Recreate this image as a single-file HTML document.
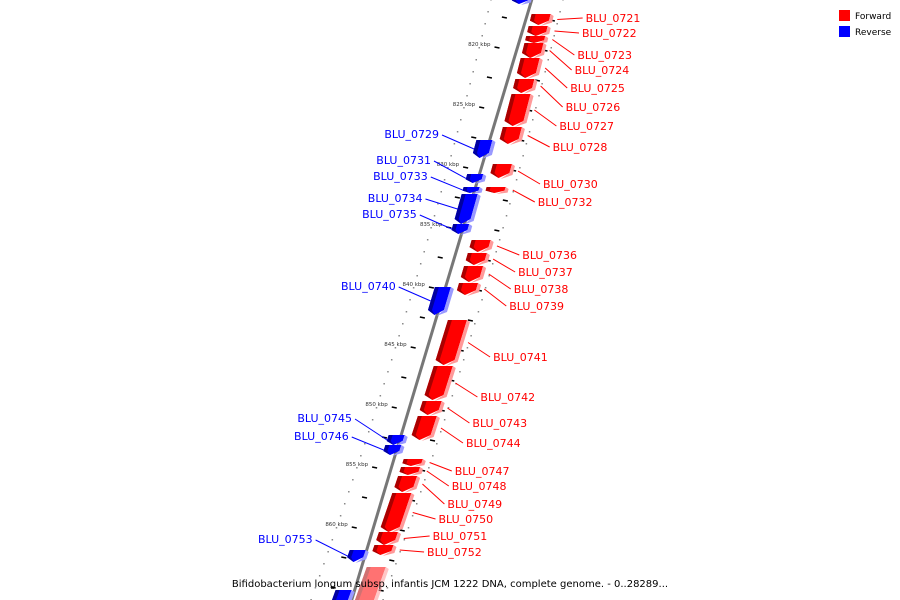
<!DOCTYPE html>
<html><head><meta charset="utf-8"><style>
body{margin:0;background:#fff;}
svg{display:block;font-family:"DejaVu Sans","Liberation Sans",sans-serif;}
</style></head><body>
<svg id="c" width="900" height="600" viewBox="0 0 900 600">
<g id="ticks"></g>
<line id="bb"></line>
<g id="genes"></g>
<g id="labels"></g>
<g>
<rect x="839" y="10" width="11" height="11" fill="#f00"/>
<text x="855" y="19" font-size="9">Forward</text>
<rect x="839" y="26" width="11" height="11" fill="#00f"/>
<text x="855" y="35" font-size="9">Reverse</text>
</g>
<text x="450" y="587" font-size="10" text-anchor="middle">Bifidobacterium longum subsp. infantis JCM 1222 DNA, complete genome. - 0..28289...</text>
</svg>
<script>
const names=["BLU_0721","BLU_0722","BLU_0723","BLU_0724","BLU_0725","BLU_0726","BLU_0727","BLU_0728","BLU_0730","BLU_0732","BLU_0736","BLU_0737","BLU_0738","BLU_0739","BLU_0741","BLU_0742","BLU_0743","BLU_0744","BLU_0747","BLU_0748","BLU_0749","BLU_0750","BLU_0751","BLU_0752","","BLU_0729","BLU_0731","BLU_0733","BLU_0734","BLU_0735","BLU_0740","BLU_0745","BLU_0746","BLU_0753","",""];
const starts=[817.25,818.25,819.08,819.67,820.92,822.67,823.92,826.67,829.75,831.67,836.08,837.17,838.25,839.67,842.75,846.58,849.5,850.75,854.33,855,855.75,857.17,860.42,861.5,863.33,827.75,830.58,831.67,832.25,834.75,840,852.33,853.17,861.92,865.25,815.67];
const ends=[818.17,819.08,819.67,820.92,822.58,823.83,826.58,828.08,830.92,832.17,837.08,838.17,839.58,840.67,846.5,849.42,850.67,852.75,854.92,855.67,857.08,860.42,861.5,862.33,866.5,829.25,831.33,832.17,834.75,835.58,842.33,853.17,854,862.92,866.5,816.42];
const strands=[1,1,1,1,1,1,1,1,1,1,1,1,1,1,1,1,1,1,1,1,1,1,1,1,1,-1,-1,-1,-1,-1,-1,-1,-1,-1,-1,-1];
const labelY=[18,33,55,70,88,107,126,147,184,202,255,272,289,306,357,397,423,443,471,486,504,519,536,552,0,134,160,176,198,214,286,418,436,539,0,0];
const tickLabels=[820,825,830,835,840,845,850,855,860];
const NS="http://www.w3.org/2000/svg";
function Y(k){return 47+(k-820)*12;}
function L(y){return 532-0.24*y-0.0001*y*y;}
function mk(t,a,p){const e=document.createElementNS(NS,t);for(const k in a)e.setAttribute(k,a[k]);p.appendChild(e);return e;}
const bb=document.getElementById('bb');
bb.setAttribute('x1',L(-5));bb.setAttribute('y1',-5);bb.setAttribute('x2',L(605));bb.setAttribute('y2',605);
bb.setAttribute('stroke','#777');bb.setAttribute('stroke-width','3');
const tg=document.getElementById('ticks');
for(let k=815;k<=867;k++){const y=Y(k);
 const d1=mk('rect',{x:L(y)-42,y:y,width:1.5,height:1.5,fill:'#888'},tg);
 
 const d2=mk('rect',{x:L(y)+30,y:y,width:1.5,height:1.5,fill:'#888'},tg);
 }
for(let k=817.5;k<=867;k+=2.5){const y=Y(k);
 const m=mk('line',{x1:L(y)-26,y1:y,x2:L(y)-21,y2:y+1,stroke:'#000','stroke-width':1.6},tg);
 
 const m2=mk('line',{x1:L(y)+22,y1:y+3,x2:L(y)+27,y2:y+4,stroke:'#000','stroke-width':1.6},tg);
 }
tickLabels.forEach(k=>{const y=Y(k);
 const t=mk('text',{x:L(y)-30,y:y-1,'font-size':5.5,'text-anchor':'end',fill:'#333'},tg);
 
 t.textContent=k+' kbp';});
const gg=document.getElementById('genes'),lg=document.getElementById('labels');
names.forEach((n,i)=>{
 const y1=Y(starts[i]),y2=Y(ends[i]),f=strands[i]>0;
 const o1=f?3:-20,o2=f?22:-4,tip=Math.min(5,(y2-y1)*0.4);
 const col=f?'#f00':'#00f',dark=f?'#a00':'#0000a0',lite=f?'#f99':'#99f';
 const faded=(n===""&&i!==35&&f);
 const g=mk('g',{opacity:faded?0.55:1},gg);
 
 
 const ya=y2-tip;
 const pts=[[L(y1)+o1,y1],[L(y1)+o2,y1],[L(ya)+o2,ya],[L(y2)+(o1+o2)/2,y2],[L(ya)+o1,ya]];
 mk('polygon',{points:pts.map(p=>p.join(',')).join(' '),fill:col},g);
 mk('polygon',{points:[[L(y1)+o1,y1],[L(y1)+o1+4,y1],[L(ya)+o1+4,ya],[L(y2)+(o1+o2)/2,y2],[L(ya)+o1,ya]].map(p=>p.join(',')).join(' '),fill:dark},g);
 mk('polygon',{points:[[L(y1)+o2,y1],[L(y1)+o2+3,y1+2],[L(ya)+o2+3,ya+2],[L(y2)+(o1+o2)/2+2,y2+1],[L(ya)+o2,ya]].map(p=>p.join(',')).join(' '),fill:lite},g);
 if(!n)return;
 const ly=labelY[i],gy=(y1+y2)/2;
 if(f){const lx=L(ly)+68+ (ly<200?0:0);
  const xg=L(gy)+30;
  const tx=Math.max(xg+25,L(ly)+58);
  const ln=mk('line',{x1:xg,y1:gy,x2:tx-3,y2:ly,stroke:'#f00','stroke-width':1},lg);
  
  const t=mk('text',{x:tx,y:ly+4,'font-size':11,fill:'#f00'},lg);
  
  t.textContent=n;
 }else{
  const xg=L(gy)-20;
  const tx=Math.min(xg-35,L(ly)-55);
  const ln=mk('line',{x1:tx+3,y1:ly+1,x2:xg,y2:gy,stroke:'#00f','stroke-width':1},lg);
  
  const t=mk('text',{x:tx,y:ly+4,'font-size':11,fill:'#00f','text-anchor':'end'},lg);
  
  t.textContent=n;
 }
});
</script>
</body></html>
